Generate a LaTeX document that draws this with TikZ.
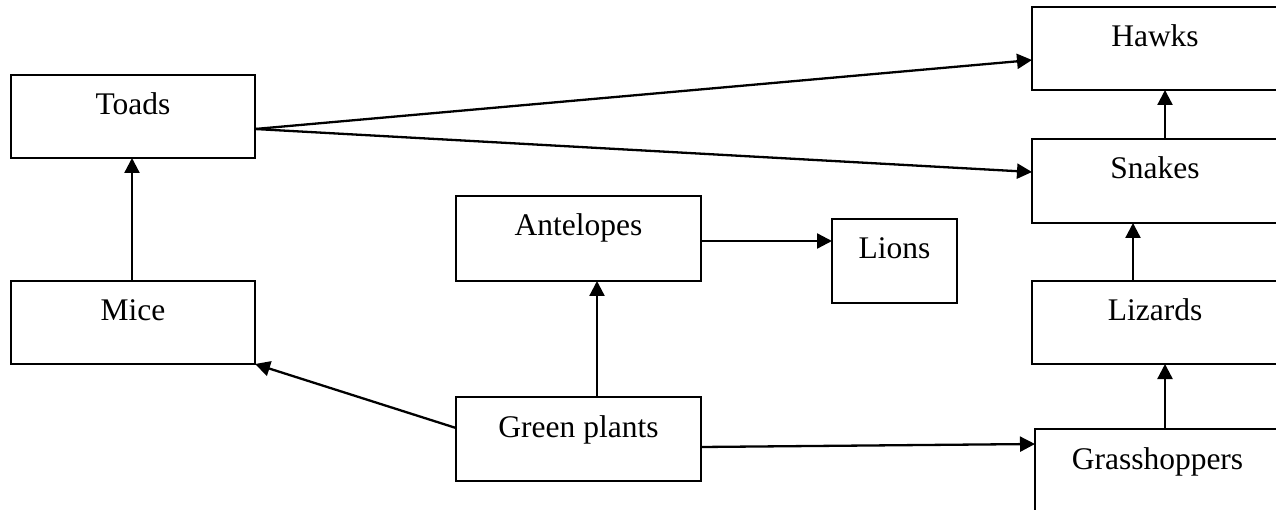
\documentclass[tikz,border=0pt]{standalone}
\usepackage{fontspec}
\setmainfont{Liberation Serif}
\usetikzlibrary{arrows.meta}
\begin{document}
\begin{tikzpicture}[x=1pt,y=-1pt,
  box/.style={draw, line width=2.3pt, rectangle, inner sep=0pt, outer sep=0pt},
  lbl/.style={anchor=base, font=\fontsize{31.5}{36}\selectfont, inner sep=0pt},
  arr/.style={line width=2.3pt, -{Triangle[length=15pt,width=15pt]}}]
\useasboundingbox (0,0) rectangle (1276,510);
\node[box, minimum width=244pt, minimum height=83pt] (toads) at (133,116.5) {};
\node[box, minimum width=244pt, minimum height=83pt] (mice) at (133,322.5) {};
\node[box, minimum width=245pt, minimum height=85pt] (ante) at (578.5,238.5) {};
\node[box, minimum width=125pt, minimum height=84pt] (lions) at (894.5,261) {};
\node[box, minimum width=245pt, minimum height=84pt] (green) at (578.5,439) {};
\node[box, minimum width=246pt, minimum height=83pt] (hawks) at (1155,48.5) {};
\node[box, minimum width=246pt, minimum height=84pt] (snakes) at (1155,181) {};
\node[box, minimum width=246pt, minimum height=83pt] (lizards) at (1155,322.5) {};
\node[box, minimum width=245pt, minimum height=83pt] (grass) at (1157.5,470.5) {};
\node[lbl] (tToads) at ([yshift=-40pt]toads.north) {Toads};
\node[lbl] (tMice) at ([yshift=-40pt]mice.north) {Mice};
\node[lbl] (tAnte) at ([yshift=-40pt]ante.north) {Antelopes};
\node[lbl] (tLions) at ([yshift=-40pt]lions.north) {Lions};
\node[lbl] (tGreen) at ([yshift=-40pt]green.north) {Green plants};
\node[lbl] (tHawks) at ([yshift=-40pt]hawks.north) {Hawks};
\node[lbl] (tSnakes) at ([yshift=-40pt]snakes.north) {Snakes};
\node[lbl] (tLizards) at ([yshift=-40pt]lizards.north) {Lizards};
\node[lbl] (tGrass) at ([yshift=-40pt]grass.north) {Grasshoppers};
\draw[arr] (toads.east |- 0,129) -- (hawks.west |- 0,60);
\draw[arr] (toads.east |- 0,129) -- (snakes.west |- 0,172);
\draw[arr] (mice.north -| 132,0) -- (toads.south -| 132,0);
\draw[arr] (green.west |- 0,428) -- (mice.south east);
\draw[arr] (green.north -| 597,0) -- (ante.south -| 597,0);
\draw[arr] (ante.east |- 0,241) -- (lions.west |- 0,241);
\draw[arr] (green.east |- 0,447) -- (grass.west |- 0,444);
\draw[arr] (grass.north -| 1165,0) -- (lizards.south -| 1165,0);
\draw[arr] (lizards.north -| 1133,0) -- (snakes.south -| 1133,0);
\draw[arr] (snakes.north -| 1165,0) -- (hawks.south -| 1165,0);
\end{tikzpicture}
\end{document}
